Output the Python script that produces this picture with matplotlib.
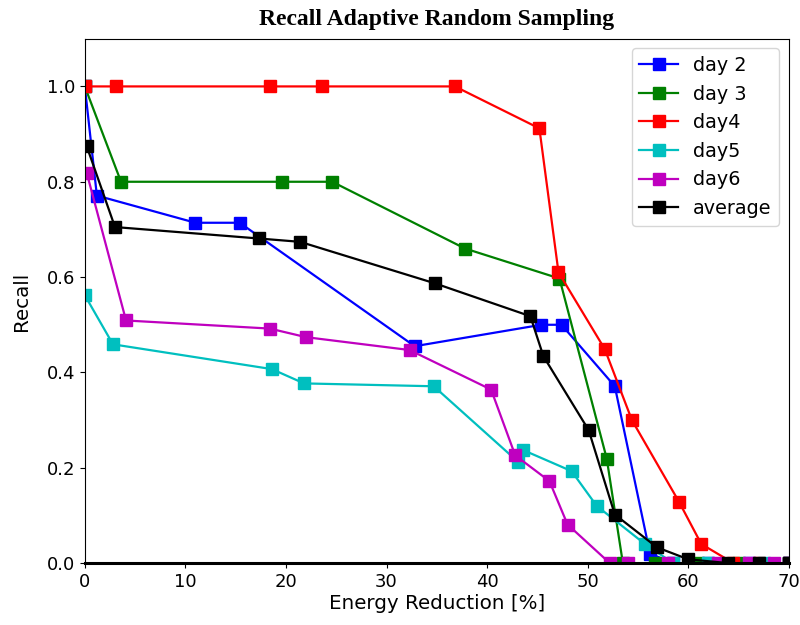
import matplotlib
matplotlib.use("Agg")
import matplotlib.pyplot as plt

# 各系列の値 (エネルギー削減率 [%], Recall)
day2_x = [0.0, 1.2, 11.0, 15.4, 32.8, 45.4, 47.4, 52.7, 56.2, 58.5, 62.0, 66.0, 70.0]
day2_y = [1.0, 0.771, 0.714, 0.714, 0.455, 0.50, 0.50, 0.371, 0.02, 0.0, 0.0, 0.0, 0.0]

day3_x = [0.0, 3.6, 19.6, 24.6, 37.8, 47.2, 51.9, 53.5, 56.7, 61.0, 65.0, 70.0]
day3_y = [1.0, 0.80, 0.80, 0.80, 0.66, 0.597, 0.219, 0.0, 0.0, 0.0, 0.0, 0.0]

day4_x = [0.0, 3.1, 18.4, 23.6, 36.8, 45.2, 47.1, 51.7, 54.4, 59.1, 61.3, 64.5, 67.0, 70.0]
day4_y = [1.0, 1.0, 1.0, 1.0, 1.0, 0.912, 0.61, 0.449, 0.30, 0.128, 0.04, 0.0, 0.0, 0.0]

day5_x = [0.0, 2.8, 18.6, 21.8, 34.7, 43.1, 43.6, 48.4, 50.9, 55.7, 58.5, 62.0, 67.5, 70.0]
day5_y = [0.562, 0.459, 0.407, 0.377, 0.371, 0.212, 0.237, 0.193, 0.12, 0.04, 0.0, 0.0, 0.0, 0.0]

day6_x = [0.2, 4.1, 18.4, 22.0, 32.3, 40.4, 42.8, 46.2, 48.0, 52.2, 54.0, 58.0, 63.0, 66.0, 68.5, 70.0]
day6_y = [0.818, 0.509, 0.492, 0.474, 0.447, 0.364, 0.226, 0.172, 0.081, 0.0, 0.0, 0.0, 0.0, 0.0, 0.0, 0.0]

avg_x = [0.2, 3.0, 17.3, 21.4, 34.8, 44.3, 45.6, 50.1, 52.7, 56.9, 60.0, 64.0, 67.0, 70.0]
avg_y = [0.874, 0.705, 0.681, 0.674, 0.587, 0.518, 0.434, 0.279, 0.102, 0.033, 0.008, 0.0, 0.0, 0.0]

fig = plt.figure(figsize=(8, 6.25), dpi=100)
ax = fig.add_axes([0.106, 0.099, 0.880, 0.839])

series = [
    (day2_x, day2_y, "b", "day 2"),
    (day3_x, day3_y, "g", "day 3"),
    (day4_x, day4_y, "r", "day4"),
    (day5_x, day5_y, "c", "day5"),
    (day6_x, day6_y, "m", "day6"),
    (avg_x, avg_y, "k", "average"),
]
for xs, ys, c, lab in series:
    ax.plot(xs, ys, color=c, marker="s", markersize=8, linewidth=1.6, label=lab)

ax.set_xlim(0, 70)
ax.set_ylim(0, 1.1)
ax.set_xticks(range(0, 71, 10))
ax.set_yticks([0.0, 0.2, 0.4, 0.6, 0.8, 1.0])
ax.tick_params(labelsize=13)
ax.spines["bottom"].set_linewidth(2.2)
ax.set_xlabel("Energy Reduction [%]", fontsize=14.3, labelpad=2)
ax.set_ylabel("Recall", fontsize=14.3, labelpad=11)
ax.set_title("Recall Adaptive Random Sampling", fontsize=17, fontweight="bold",
             family="Liberation Serif", pad=10)
ax.legend(loc="upper right", fontsize=13.8)

fig.savefig("out.png", dpi=100)
